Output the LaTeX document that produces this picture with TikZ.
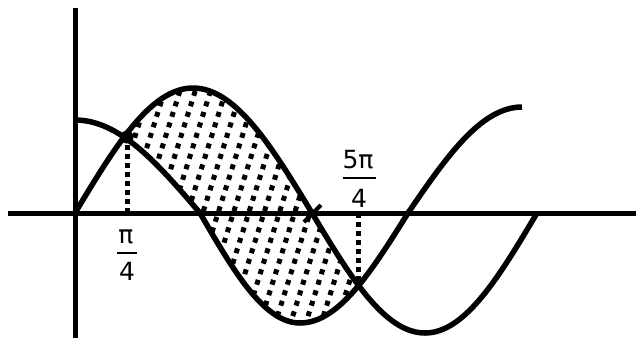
\documentclass[tikz,border=0pt]{standalone}
\usepackage{fontspec}
\setmainfont{DejaVu Sans}

\begin{document}
\begin{tikzpicture}[x=1pt, y=-1pt,
  axis/.style={line width=5pt},
  curve/.style={line width=5.5pt},
  dropline/.style={line width=5pt, dash pattern=on 5pt off 4pt},
  hatchdots/.style={line width=5pt, dash pattern=on 5pt off 6pt},
  fractext/.style={inner sep=0pt, anchor=base, font=\fontsize{25}{30}\selectfont},
  fracbar/.style={fill, inner sep=0pt, minimum height=2pt}]
\useasboundingbox (0,0) rectangle (636,338);
\coordinate (O) at (75,213);
\coordinate (A) at (127,137);
\coordinate (B) at (358,285);
\coordinate (P) at (312,213);
\draw[axis] (8,213) -- (636,213);
\draw[axis] (75,8) -- (75,338);
\begin{scope}
\clip (127,0) rectangle (358,338);
\clip (75,213) .. controls (114.4,147.4) and (150.5,88) .. (193,88)
  .. controls (235.8,88) and (272.3,147.4) .. (312,213)
  .. controls (349.7,276) and (384.3,333) .. (425,333) -- (425,338) -- (75,338) -- cycle;
\clip (75,120) .. controls (120,120) and (158.3,164.2) .. (200,213)
  .. controls (233.4,270.8) and (264,323) .. (300,323)
  .. controls (338.9,323) and (371.9,270.8) .. (408,213) -- (408,0) -- (75,0) -- cycle;
\foreach \k in {0,...,22}
  \draw[hatchdots] (110+15.3*\k,70) -- ++(-88,280);
\end{scope}
\draw[curve] (75,213) .. controls (114.4,147.4) and (150.5,88) .. (193,88)
  .. controls (235.8,88) and (272.3,147.4) .. (312,213)
  .. controls (349.7,276) and (384.3,333) .. (425,333)
  .. controls (465.3,333) and (499.6,276) .. (537,213);
\draw[curve] (75,120) .. controls (120,120) and (158.3,164.2) .. (200,213)
  .. controls (233.4,270.8) and (264,323) .. (300,323)
  .. controls (338.9,323) and (371.9,270.8) .. (408,213)
  .. controls (446.1,157.3) and (481,107) .. (522,107);
\draw[dropline] (A |- O) -- (A);
\draw[dropline] (B |- O) -- (B);
\fill (A) circle (6.5);
\draw[line width=4pt] (P) ++(-8,9) -- ++(17,-17);
\node[fractext] (num1) at (126,243) {π};
\node[fracbar, minimum width=20pt] (bar1) at (127,253) {};
\node[fractext] (den1) at (127,280) {4};
\node[fractext] (num2) at (358,168) {5π};
\node[fracbar, minimum width=33pt] (bar2) at (359,178) {};
\node[fractext] (den2) at (359,207) {4};
\end{tikzpicture}
\end{document}
